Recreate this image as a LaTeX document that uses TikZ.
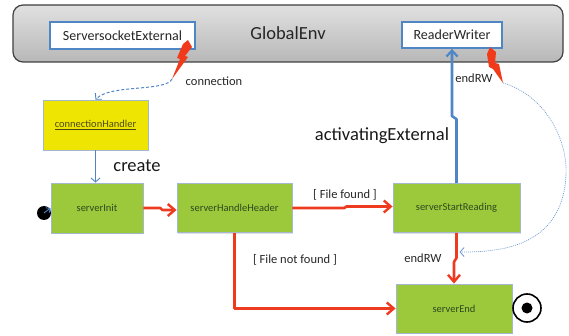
\documentclass[tikz,border=0pt]{standalone}
\usepackage{fontspec}
\setmainfont{Carlito}
\usetikzlibrary{arrows.meta,calc,shadows}
\definecolor{stgreen}{HTML}{9CC83C}
\definecolor{stborder}{HTML}{A3B7CF}
\definecolor{sttext}{HTML}{2E4A1E}
\definecolor{chyellow}{HTML}{EEE602}
\definecolor{chtext}{HTML}{4D4A10}
\definecolor{lnblue}{HTML}{4F86C6}
\definecolor{lnred}{HTML}{EE3A1E}
\definecolor{boltred}{HTML}{F03A1A}
\begin{document}
\begin{tikzpicture}[x=1pt,y=-1pt,
  bar/.style={draw=black!75, line width=1.2pt, rounded corners=10pt,
    top color=black!12, middle color=black!5, bottom color=black!28,
    font=\fontsize{18.5}{20}\selectfont, text=black!85},
  envbox/.style={draw=lnblue, line width=1.8pt, fill=white, text=black!85,
    font=\fontsize{14}{16}\selectfont, inner sep=0pt},
  stbox/.style={draw=stborder, line width=0.8pt, fill=stgreen, text=sttext,
    font=\fontsize{10.5}{12}\selectfont, inner sep=0pt,
    drop shadow={shadow xshift=0.8pt, shadow yshift=-1.4pt, opacity=0.25}},
  chbox/.style={draw=stborder, line width=0.8pt, fill=chyellow, text=chtext,
    font=\fontsize{10.5}{12}\selectfont, inner sep=0pt,
    drop shadow={shadow xshift=0.8pt, shadow yshift=-1.4pt, opacity=0.25}},
  redline/.style={draw=lnred, line width=2.6pt, line join=round,
    -{Straight Barb[length=7pt,width=12pt,line width=2.4pt]}},
  bluethick/.style={draw=lnblue, line width=2.6pt, line join=round,
    -{Straight Barb[length=6pt,width=11pt,line width=2.2pt]}},
  bluethin/.style={draw=lnblue, line width=0.9pt,
    -{Straight Barb[length=4pt,width=9pt,line width=0.9pt]}},
  bluedash/.style={draw=lnblue, line width=1pt, dash pattern=on 3pt off 2pt,
    -{Straight Barb[length=4pt,width=9pt,line width=0.9pt]}},
  bluedot/.style={draw=lnblue!80, line width=0.7pt, dash pattern=on 1pt off 1pt,
    -{Straight Barb[length=4pt,width=9pt,line width=0.9pt]}},
  lbl/.style={text=black!85, font=\fontsize{12.5}{14}\selectfont},
  biglbl/.style={text=black!90, font=\fontsize{18.5}{20}\selectfont}]
\useasboundingbox (0,0) rectangle (569,336);
% environment bar
\node[bar, minimum width=550pt, minimum height=57pt] (env) at (288,33.5) {GlobalEnv};
\node[envbox, minimum width=145pt, minimum height=27pt] (sse) at (122.5,35.5) {ServersocketExternal};
\node[envbox, minimum width=100pt, minimum height=26pt] (rw) at (452,35) {ReaderWriter};
% states
\node[chbox, minimum width=105pt, minimum height=50pt] (ch) at (95.5,125) {\underline{connectionHandler}};
\node[stbox, minimum width=92pt, minimum height=50pt] (init) at (97,208) {serverInit};
\node[stbox, minimum width=115pt, minimum height=49pt] (hh) at (234.5,208) {serverHandleHeader};
\node[stbox, minimum width=127pt, minimum height=49pt] (ssr) at (456.5,208) {serverStartReading};
\node[stbox, minimum width=116pt, minimum height=49pt] (se) at (454,308.5) {serverEnd};
% initial and final pseudo states
\node[circle, fill=black, inner sep=0pt, minimum size=14pt] (start) at (44,213) {};
\node[circle, draw=black, line width=1.6pt, fill=white, inner sep=0pt, minimum size=28pt] (fin) at (527,308) {};
\node[circle, fill=black, inner sep=0pt, minimum size=11pt] (findot) at (fin.center) {};
% lightning bolts
\coordinate (b1) at (172,79);
\coordinate (b2) at (503,83);
\fill[boltred] (188,40) -- (192,47) -- (185,56) -- (188,57) -- (b1) -- (180,59) -- (177,58) -- (183,44) -- cycle;
\fill[boltred] (490,47) -- (496,52) -- (495,63) -- (499,64) -- (b2) -- (493,69) -- (489,67) -- (487,54) -- cycle;
% connectors
\draw[bluedash] (b1) .. controls (166,92) and (110,84) .. (ch.north);
\draw[bluethin] (ch.south) -- (ch.south |- init.north);
\draw[bluethin, -{Straight Barb[length=3pt,width=6pt,line width=0.9pt]}] (start.center) -- (init.west);
\draw[redline] (init.east) -- ++(17,0) -- ++(2,2) -- ($(hh.west)+(0,2)$);
\draw[redline] (hh.east) -- ++(52,0) -- ++(2,-1.5) -- ($(ssr.west)+(0,-1.5)$);
\draw[redline] (hh.south) |- (se.west);
\draw[redline] (ssr.south) -- ++(0,25) -- ++(-2.5,4) -- (se.north);
\draw[bluethick] (ssr.north) -- ++(0,-64) -- ++(-4.5,-3) -- (rw.south);
\coordinate (rwend) at ($(ssr.south)+(3,19)$);
\draw[bluedot] (b2) .. controls (545,95) and (568,140) .. (566,175) .. controls (563,235) and (520,253) .. (rwend);
% labels
\node[lbl] (lconn) at (214,81) {connection};
\node[biglbl] (lcreate) at (137,166) {create};
\node[lbl] (lfound) at (345,195) {[ File found ]};
\node[lbl] (lnotfound) at (295,260) {[ File not found ]};
\node[lbl] (lend1) at (423,258) {endRW};
\node[lbl] (lend2) at (474,78) {endRW};
\node[biglbl] (lact) at (382,136) {activatingExternal};
\end{tikzpicture}
\end{document}
